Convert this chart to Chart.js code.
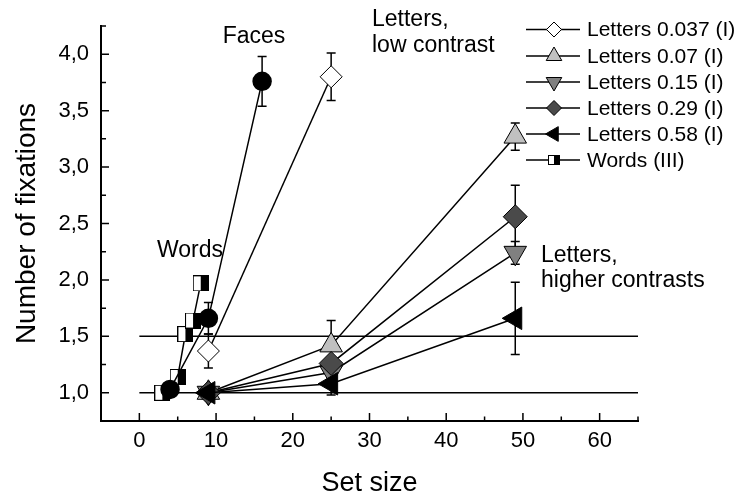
<!DOCTYPE html>
<html>
<head>
<meta charset="utf-8">
<script src="https://cdn.jsdelivr.net/npm/chart.js@4/dist/chart.umd.min.js"></script>
<style>
  html, body { margin: 0; padding: 0; background: #fff; }
  #wrap { width: 740px; height: 500px; }
</style>
</head>
<body>
<div id="wrap"><canvas id="c" width="740" height="500"></canvas></div>
<script>
const FONT = "'Liberation Sans', Arial, Helvetica, sans-serif";

// Set sizes per experiment
const letterSetSizes = [9, 25, 49];
const letterLowSetSizes = [9, 25];
const faceSetSizes = [4, 9, 16];
const wordSetSizes = [3, 5, 6, 7, 8];

// Mean number of fixations
const letters0037 = [1.37, 3.80];
const letters007 = [1.00, 1.42, 3.27];
const letters015 = [1.00, 1.18, 2.24];
const letters029 = [1.00, 1.26, 2.56];
const letters058 = [1.00, 1.08, 1.66];
const faces = [1.03, 1.66, 3.76];
const words = [1.00, 1.14, 1.52, 1.64, 1.97];

// Error bar half-lengths
const err0037 = [0.15, 0.21];
const err007 = [0.00, 0.22, 0.12];
const err015 = [0.00, 0.05, 0.10];
const err029 = [0.00, 0.05, 0.28];
const err058 = [0.00, 0.10, 0.32];
const errFaces = [0.00, 0.14, 0.22];

// Horizontal reference levels
const referenceLevels = [1.0, 1.5];

// Axis ticks
const xMajorTicks = [0, 10, 20, 30, 40, 50, 60];
const xMinorTicks = [5, 15, 25, 35, 45, 55, 65];
const yMajorTicks = [1.0, 1.5, 2.0, 2.5, 3.0, 3.5, 4.0];
const yMinorTicks = [1.25, 1.75, 2.25, 2.75, 3.25, 3.75, 4.25];

const seriesNames = ['Letters 0.037 (I)', 'Letters 0.07 (I)', 'Letters 0.15 (I)',
                     'Letters 0.29 (I)', 'Letters 0.58 (I)', 'Words (III)'];

function pts(xs, ys) { return xs.map((x, i) => ({ x: x, y: ys[i] })); }

// Half-open square marker used for the word series
function makeWordMarker(w, h) {
  const c = document.createElement('canvas');
  c.width = w; c.height = h;
  const g = c.getContext('2d');
  g.fillStyle = '#fff'; g.fillRect(0, 0, w, h);
  g.fillStyle = '#000'; g.fillRect(Math.round(w / 2), 0, w - Math.round(w / 2), h);
  g.strokeStyle = '#000'; g.lineWidth = 1;
  g.strokeRect(0.5, 0.5, w - 1, h - 1);
  return c;
}
const wordMarker = makeWordMarker(16, 16);
const wordMarkerSmall = makeWordMarker(12, 10);

const markerStyles = [
  { pointStyle: 'rectRot', rotation: 0, fill: '#ffffff', radius: 11, legendRadius: 7.5 },
  { pointStyle: 'triangle', rotation: 0, fill: '#c0c0c0', radius: 13, legendRadius: 9 },
  { pointStyle: 'triangle', rotation: 180, fill: '#808080', radius: 13, legendRadius: 9 },
  { pointStyle: 'rectRot', rotation: 0, fill: '#4a4a4a', radius: 12, legendRadius: 7.5 },
  { pointStyle: 'triangle', rotation: 270, fill: '#000000', radius: 13, legendRadius: 8.5 },
  { pointStyle: wordMarker, rotation: 0, fill: '#000000', radius: 8, legendImage: wordMarkerSmall }
];

function seriesDataset(label, data, errors, style) {
  return {
    label: label,
    data: data,
    errors: errors,
    borderColor: '#000',
    borderWidth: 1.5,
    backgroundColor: style.fill,
    pointBackgroundColor: style.fill,
    pointBorderColor: '#000',
    pointBorderWidth: 1,
    pointStyle: style.pointStyle,
    rotation: style.rotation,
    pointRadius: style.radius,
    pointHoverRadius: style.radius,
    tension: 0,
    fill: false
  };
}

// Earlier datasets are painted on top
const datasets = [
  {
    label: 'Faces',
    data: pts(faceSetSizes, faces),
    errors: errFaces,
    borderColor: '#000', borderWidth: 1.5,
    pointBackgroundColor: '#000', pointBorderColor: '#000',
    pointStyle: 'circle', pointRadius: 9, pointHoverRadius: 9, fill: false
  },
  seriesDataset(seriesNames[5], pts(wordSetSizes, words), null, markerStyles[5]),
  seriesDataset(seriesNames[0], pts(letterLowSetSizes, letters0037), err0037, markerStyles[0]),
  seriesDataset(seriesNames[4], pts(letterSetSizes, letters058), err058, markerStyles[4]),
  seriesDataset(seriesNames[3], pts(letterSetSizes, letters029), err029, markerStyles[3]),
  seriesDataset(seriesNames[2], pts(letterSetSizes, letters015), err015, markerStyles[2]),
  seriesDataset(seriesNames[1], pts(letterSetSizes, letters007), err007, markerStyles[1])
];
referenceLevels.forEach(level => {
  datasets.push({
    label: 'ref ' + level,
    data: [{ x: 0, y: level }, { x: 65, y: level }],
    borderColor: '#000', borderWidth: 1.5,
    pointRadius: 0, pointHoverRadius: 0, fill: false
  });
});

// Error bars, drawn beneath the markers
const errorBars = {
  id: 'errorBars',
  beforeDatasetsDraw(chart) {
    const ctx = chart.ctx, xs = chart.scales.x, ys = chart.scales.y;
    ctx.save();
    ctx.strokeStyle = '#000';
    ctx.lineWidth = 1.5;
    chart.data.datasets.forEach(ds => {
      if (!ds.errors) return;
      ds.data.forEach((p, i) => {
        const e = ds.errors[i];
        if (!e) return;
        const px = xs.getPixelForValue(p.x);
        const top = ys.getPixelForValue(p.y + e);
        const bot = ys.getPixelForValue(p.y - e);
        ctx.beginPath();
        ctx.moveTo(px, top); ctx.lineTo(px, bot);
        ctx.moveTo(px - 4.5, top); ctx.lineTo(px + 4.5, top);
        ctx.moveTo(px - 4.5, bot); ctx.lineTo(px + 4.5, bot);
        ctx.stroke();
      });
    });
    ctx.restore();
  }
};

// Inward tick marks on both axes
const innerTicks = {
  id: 'innerTicks',
  afterDraw(chart) {
    const ctx = chart.ctx, xs = chart.scales.x, ys = chart.scales.y;
    const a = chart.chartArea;
    ctx.save();
    ctx.strokeStyle = '#000';
    ctx.lineWidth = 1.5;
    ctx.beginPath();
    xMajorTicks.forEach(v => { const p = xs.getPixelForValue(v); ctx.moveTo(p, a.bottom); ctx.lineTo(p, a.bottom - 8); });
    xMinorTicks.forEach(v => { const p = xs.getPixelForValue(v); ctx.moveTo(p, a.bottom); ctx.lineTo(p, a.bottom - 4.5); });
    yMajorTicks.forEach(v => { const p = ys.getPixelForValue(v); ctx.moveTo(a.left, p); ctx.lineTo(a.left + 8, p); });
    yMinorTicks.forEach(v => { const p = ys.getPixelForValue(v); ctx.moveTo(a.left, p); ctx.lineTo(a.left + 5, p); });
    ctx.stroke();
    ctx.restore();
  }
};

// Series key with line samples, in the upper right corner
const keyBox = {
  id: 'keyBox',
  afterDraw(chart) {
    const ctx = chart.ctx;
    const x0 = 526, x1 = 580, xm = 554, xt = 587;
    const rows = [29.5, 56, 82, 108, 134, 160];
    ctx.save();
    ctx.font = '21px ' + FONT;
    ctx.textBaseline = 'middle';
    ctx.textAlign = 'left';
    seriesNames.forEach((name, i) => {
      const y = rows[i];
      const st = markerStyles[i];
      ctx.strokeStyle = '#000';
      ctx.lineWidth = 1.5;
      ctx.beginPath(); ctx.moveTo(x0, y); ctx.lineTo(x1, y); ctx.stroke();
      ctx.fillStyle = st.fill;
      ctx.lineWidth = 1;
      if (st.legendImage) {
        Chart.helpers.drawPoint(ctx, { pointStyle: st.legendImage, rotation: 0, radius: 6, borderWidth: 1 }, xm, y);
      } else {
        Chart.helpers.drawPoint(ctx, { pointStyle: st.pointStyle, rotation: st.rotation, radius: st.legendRadius, borderWidth: 1 }, xm, y);
      }
      ctx.fillStyle = '#000';
      ctx.fillText(name, xt, y + 1);
    });
    ctx.restore();
  }
};

// Text labels placed next to the curves
const curveLabels = [
  { text: 'Faces', x: 254, y: 37, align: 'center' },
  { text: 'Letters,', x: 372, y: 20, align: 'left' },
  { text: 'low contrast', x: 372, y: 46, align: 'left' },
  { text: 'Words', x: 190, y: 251, align: 'center' },
  { text: 'Letters,', x: 541, y: 256, align: 'left' },
  { text: 'higher contrasts', x: 541, y: 281, align: 'left' }
];
const curveText = {
  id: 'curveText',
  afterDraw(chart) {
    const ctx = chart.ctx;
    ctx.save();
    ctx.font = '23px ' + FONT;
    ctx.fillStyle = '#000';
    ctx.textBaseline = 'middle';
    curveLabels.forEach(l => { ctx.textAlign = l.align; ctx.fillText(l.text, l.x, l.y); });
    ctx.restore();
  }
};

new Chart(document.getElementById('c'), {
  type: 'line',
  data: { datasets: datasets },
  plugins: [errorBars, innerTicks, keyBox, curveText],
  options: {
    responsive: false,
    animation: false,
    devicePixelRatio: 1,
    layout: { padding: { left: 0, right: 102, top: 26, bottom: 0 } },
    plugins: { legend: { display: false }, tooltip: { enabled: false } },
    scales: {
      x: {
        type: 'linear',
        min: -5, max: 65,
        afterBuildTicks: s => { s.ticks = xMajorTicks.map(v => ({ value: v })); },
        afterFit: s => { s.height = 79; },
        grid: { display: false, drawTicks: false },
        border: { display: true, color: '#000', width: 2 },
        ticks: { color: '#000', font: { family: FONT, size: 22 }, padding: 7, autoSkip: false, maxRotation: 0 },
        title: { display: true, text: 'Set size', color: '#000', font: { family: FONT, size: 27 }, padding: { top: 0, bottom: 0 } }
      },
      y: {
        type: 'linear',
        min: 0.75, max: 4.25,
        afterBuildTicks: s => { s.ticks = yMajorTicks.map(v => ({ value: v })); },
        afterFit: s => { s.width = 101; },
        grid: { display: false, drawTicks: false },
        border: { display: true, color: '#000', width: 2 },
        ticks: {
          color: '#000', font: { family: FONT, size: 22 }, padding: 12, autoSkip: false,
          callback: v => v.toFixed(1).replace('.', ',')
        },
        title: { display: true, text: 'Number of fixations', color: '#000', font: { family: FONT, size: 28 }, padding: { top: 10, bottom: 0 } }
      }
    }
  }
});
</script>
</body>
</html>
